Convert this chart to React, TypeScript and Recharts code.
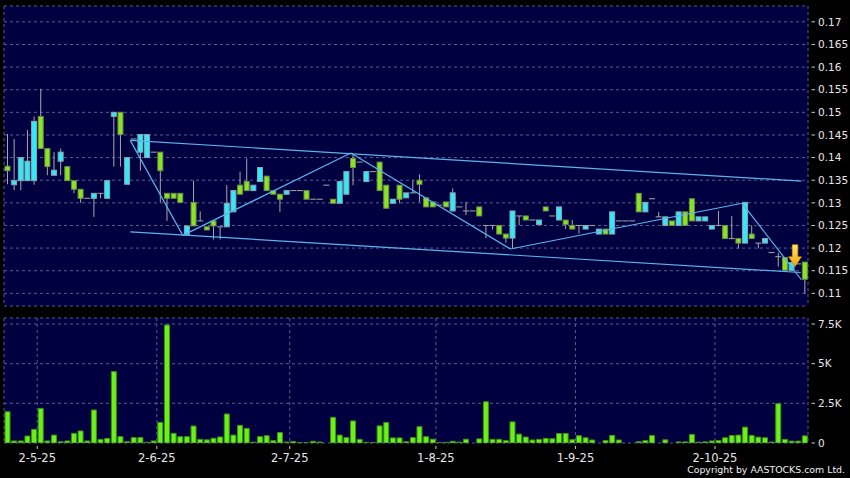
import {
  ComposedChart,
  Bar,
  XAxis,
  YAxis,
  CartesianGrid,
  ReferenceLine,
  ReferenceDot,
} from "recharts";

// daily prices, oldest first (121 sessions)
const OPEN = [
  0.1381, 0.134, 0.1349, 0.1349, 0.1349, 0.1491, 0.142, 0.1361, 0.1392, 0.138,
  0.1349, 0.133, 0.131, 0.131, 0.1321, 0.131, 0.1491, 0.15, 0.1341, 0.1441,
  0.1412, 0.14, 0.1412, 0.1412, 0.1321, 0.1321, 0.1321, 0.1229, 0.1301, 0.126,
  0.1247, 0.126, 0.1247, 0.1247, 0.128, 0.1339, 0.1347, 0.1327, 0.1347, 0.1359,
  0.1327, 0.1319, 0.1319, 0.1327, 0.1327, 0.1327, 0.1308, 0.1308, 0.1339, 0.1308,
  0.1299, 0.1319, 0.1398, 0.139, 0.1347, 0.1369, 0.139, 0.1339, 0.1299, 0.1339,
  0.1311, 0.1322, 0.135, 0.1311, 0.1302, 0.1295, 0.1302, 0.1282, 0.1291, 0.1282,
  0.1282, 0.1291, 0.125, 0.125, 0.125, 0.1231, 0.1222, 0.1271, 0.1271, 0.1262,
  0.1252, 0.1291, 0.1271, 0.1262, 0.1262, 0.125, 0.125, 0.1242, 0.125, 0.1231,
  0.1242, 0.1231, 0.126, 0.126, 0.126, 0.1321, 0.128, 0.1309, 0.1269, 0.125,
  0.126, 0.125, 0.128, 0.1309, 0.126, 0.126, 0.1242, 0.125, 0.125, 0.1221,
  0.1221, 0.1211, 0.1231, 0.1211, 0.1211, 0.119, 0.1181, 0.1179, 0.1151, 0.1165,
  0.1169,
];
const HIGH = [
  0.1452, 0.1441, 0.14, 0.1461, 0.1491, 0.1552, 0.142, 0.1412, 0.142, 0.138,
  0.1349, 0.133, 0.131, 0.1321, 0.1321, 0.1349, 0.15, 0.15, 0.14, 0.1441,
  0.1451, 0.1451, 0.1412, 0.1412, 0.1321, 0.1321, 0.1321, 0.1249, 0.1349, 0.1281,
  0.1247, 0.126, 0.1247, 0.1339, 0.1327, 0.1369, 0.1398, 0.1339, 0.1378, 0.1359,
  0.1327, 0.1319, 0.1327, 0.1327, 0.1327, 0.1327, 0.1308, 0.1308, 0.1339, 0.1308,
  0.1347, 0.1369, 0.1409, 0.139, 0.1369, 0.1369, 0.139, 0.1339, 0.1308, 0.1339,
  0.1322, 0.135, 0.1363, 0.1311, 0.1302, 0.1295, 0.1302, 0.1332, 0.1291, 0.1302,
  0.1282, 0.1291, 0.125, 0.125, 0.125, 0.1231, 0.1282, 0.1271, 0.1271, 0.1262,
  0.1262, 0.1291, 0.1271, 0.1291, 0.1262, 0.1262, 0.125, 0.125, 0.125, 0.1242,
  0.1242, 0.128, 0.126, 0.126, 0.126, 0.1321, 0.1301, 0.1309, 0.128, 0.1269,
  0.126, 0.128, 0.128, 0.1309, 0.1269, 0.1269, 0.125, 0.1282, 0.125, 0.1271,
  0.1221, 0.1301, 0.125, 0.1211, 0.1221, 0.119, 0.119, 0.1179, 0.1168, 0.1165,
  0.1169,
];
const LOW = [
  0.1341, 0.1328, 0.1328, 0.1349, 0.134, 0.142, 0.1361, 0.1361, 0.1361, 0.1349,
  0.1321, 0.13, 0.131, 0.1269, 0.131, 0.131, 0.138, 0.138, 0.1341, 0.1441,
  0.1371, 0.14, 0.1412, 0.1301, 0.126, 0.131, 0.1301, 0.1229, 0.1249, 0.126,
  0.124, 0.1219, 0.1219, 0.1247, 0.128, 0.1319, 0.1327, 0.1327, 0.1347, 0.1327,
  0.1319, 0.128, 0.1319, 0.1327, 0.1327, 0.1308, 0.1308, 0.1308, 0.1339, 0.1299,
  0.1299, 0.1319, 0.1339, 0.139, 0.1347, 0.1369, 0.1327, 0.1288, 0.1299, 0.1299,
  0.1311, 0.1322, 0.1302, 0.1291, 0.1291, 0.1295, 0.1291, 0.1282, 0.1291, 0.1273,
  0.1282, 0.1271, 0.1222, 0.1241, 0.1231, 0.1212, 0.12, 0.125, 0.1262, 0.1262,
  0.1252, 0.1282, 0.1271, 0.1262, 0.1242, 0.1242, 0.1232, 0.1242, 0.125, 0.1231,
  0.1231, 0.1231, 0.126, 0.126, 0.126, 0.128, 0.128, 0.1309, 0.1269, 0.125,
  0.125, 0.125, 0.125, 0.126, 0.126, 0.126, 0.1242, 0.125, 0.1221, 0.1221,
  0.1199, 0.1211, 0.1221, 0.1199, 0.1211, 0.119, 0.1159, 0.1151, 0.1151, 0.1165,
  0.1099,
];
const CLOSE = [
  0.1371, 0.1349, 0.14, 0.1392, 0.148, 0.142, 0.138, 0.1372, 0.1412, 0.1349,
  0.133, 0.131, 0.131, 0.1321, 0.1321, 0.1349, 0.15, 0.1451, 0.14, 0.1441,
  0.1451, 0.1451, 0.1412, 0.1371, 0.131, 0.131, 0.1301, 0.1249, 0.1249, 0.126,
  0.124, 0.1249, 0.1247, 0.1299, 0.1327, 0.1319, 0.1327, 0.1339, 0.1378, 0.1327,
  0.1319, 0.1308, 0.1327, 0.1327, 0.1327, 0.1308, 0.1308, 0.1308, 0.1339, 0.1299,
  0.1347, 0.1369, 0.1378, 0.139, 0.1369, 0.1369, 0.1327, 0.1288, 0.1308, 0.1308,
  0.1322, 0.1322, 0.1341, 0.1291, 0.1291, 0.1295, 0.1291, 0.1322, 0.1291, 0.1282,
  0.1282, 0.1271, 0.125, 0.125, 0.1231, 0.1222, 0.1282, 0.1271, 0.1262, 0.1262,
  0.1262, 0.1282, 0.1271, 0.1291, 0.1252, 0.1242, 0.125, 0.125, 0.125, 0.1242,
  0.1231, 0.128, 0.126, 0.126, 0.126, 0.128, 0.1301, 0.1309, 0.1269, 0.1269,
  0.125, 0.128, 0.125, 0.126, 0.1269, 0.1269, 0.125, 0.125, 0.1221, 0.1221,
  0.1211, 0.1301, 0.1221, 0.1211, 0.1221, 0.119, 0.1181, 0.1151, 0.1168, 0.1165,
  0.1131,
];
const VOLUME = [
  1970, 130, 130, 440, 860, 2180, 130, 500, 80, 130,
  610, 760, 130, 2080, 230, 290, 4500, 400, 80, 340,
  340, 40, 130, 1300, 7440, 610, 400, 400, 1070, 230,
  200, 300, 380, 1830, 500, 1110, 920, 50, 400, 460,
  150, 660, 60, 100, 30, 10, 110, 60, 0, 1620,
  500, 340, 1390, 230, 40, 20, 1080, 1290, 320, 320,
  80, 340, 1030, 400, 240, 20, 40, 110, 50, 240,
  0, 260, 2600, 230, 230, 150, 1330, 560, 380, 190,
  230, 290, 270, 600, 600, 210, 460, 330, 190, 0,
  160, 480, 190, 0, 0, 80, 150, 470, 0, 200,
  0, 70, 70, 540, 50, 70, 130, 160, 330, 470,
  500, 1000, 480, 370, 330, 60, 2480, 230, 120, 120,
  450,
];

const DATE_POS = [4.5, 22.5, 42.5, 64.5, 85.5, 106.5];
const DATE_LABELS = ["2-5-25", "2-6-25", "2-7-25", "1-8-25", "1-9-25", "2-10-25"];
const PRICE_TICKS = [0.11, 0.115, 0.12, 0.125, 0.13, 0.135, 0.14, 0.145, 0.15, 0.155, 0.16, 0.165, 0.17];
const VOLUME_TICKS = [0, 2500, 5000, 7500];

// trend lines drawn on the chart: [session index, price]
const UPPER_CHANNEL = [[18.5, 0.1438], [119.5, 0.1348]];
const LOWER_CHANNEL = [[18.5, 0.1236], [119.4, 0.1146]];
const ZIGZAG = [
  [18.5, 0.1438], [26.4, 0.1228], [51.7, 0.141], [75.7, 0.1198], [110.6, 0.1299], [119.5, 0.113],
];
const ARROW_AT = [118.55, 0.1159];

const BG = "#000040";
const GRID = "#5c5c8e";
const WICK = "#a8a8a8";
const UP_FILL = "#33e8f8";
const UP_EDGE = "#8aa6ae";
const DOWN_FILL = "#8ae424";
const DOWN_EDGE = "#6c8c48";
const LINE = "#5ab4ec";
const FONT = "DejaVu Sans, sans-serif";

const rows = OPEN.map((o, i) => ({
  i,
  o,
  h: HIGH[i],
  l: LOW[i],
  c: CLOSE[i],
  v: VOLUME[i],
}));

function Candle(props: any) {
  const { x, y, width, height, payload } = props;
  if (x == null || y == null) return null;
  const { o, h, l, c } = payload;
  const top = Math.min(y, y + height);
  const bottom = Math.max(y, y + height);
  const span = h - l;
  const toY = (p: number) => (span > 0 ? top + ((h - p) / span) * (bottom - top) : top);
  const cx = x + width / 2;
  const bTop = toY(Math.max(o, c));
  const bBot = toY(Math.min(o, c));
  const up = c > o;
  return (
    <g>
      {bottom - top > 0.5 && (
        <line x1={cx} x2={cx} y1={top} y2={bottom} stroke={WICK} strokeWidth={1} />
      )}
      {bBot - bTop < 1 ? (
        <line x1={x - 0.5} x2={x + width + 0.5} y1={bTop} y2={bTop} stroke={WICK} strokeWidth={1} />
      ) : (
        <rect
          x={x}
          y={bTop}
          width={width}
          height={bBot - bTop}
          fill={up ? UP_FILL : DOWN_FILL}
          stroke={up ? UP_EDGE : DOWN_EDGE}
          strokeWidth={1}
        />
      )}
    </g>
  );
}

function RightTick(props: any) {
  const { x, y, payload, fmt } = props;
  return (
    <g>
      <line x1={x + 3.5} x2={x + 7} y1={y} y2={y} stroke="#c8c8c8" />
      <text x={x + 10} y={y} dy="0.36em" fill="#e6e6e6" fontSize={10.5} fontFamily={FONT}>
        {fmt(payload.value)}
      </text>
    </g>
  );
}

function DateTick(props: any) {
  const { x, y, payload } = props;
  const idx = DATE_POS.indexOf(payload.value);
  return (
    <g>
      <line x1={x} x2={x} y1={y + 3} y2={y + 6} stroke="#c8c8c8" />
      <text x={x} y={y + 19} textAnchor="middle" fill="#e6e6e6" fontSize={11.5} fontFamily={FONT}>
        {DATE_LABELS[idx] ?? ""}
      </text>
    </g>
  );
}

function Arrow(props: any) {
  const { cx, cy } = props;
  if (cx == null || cy == null) return null;
  const pts = [
    [cx - 2.8, cy - 22],
    [cx + 2.8, cy - 22],
    [cx + 2.8, cy - 10],
    [cx + 6.5, cy - 10],
    [cx, cy],
    [cx - 6.5, cy - 10],
    [cx - 2.8, cy - 10],
  ]
    .map((p) => p.join(","))
    .join(" ");
  return (
    <g>
      <defs>
        <linearGradient id="arrowFill" x1="0" y1="0" x2="0" y2="1">
          <stop offset="0%" stopColor="#ffe866" />
          <stop offset="100%" stopColor="#f2a20c" />
        </linearGradient>
      </defs>
      <polygon points={pts} fill="url(#arrowFill)" stroke="#d08a00" strokeWidth={0.6} />
    </g>
  );
}

const fmtPrice = (v: number) => String(+v.toFixed(3));
const fmtVolume = (v: number) => (v === 0 ? "0" : `${+(v / 1000).toFixed(1)}K`);

const seg = (a: number[], b: number[]) => [
  { x: a[0], y: a[1] },
  { x: b[0], y: b[1] },
];

export default function App() {
  const zigzagSegs = ZIGZAG.slice(1).map((p, k) => seg(ZIGZAG[k], p));
  return (
    <div
      style={{
        position: "absolute",
        left: 0,
        top: 0,
        width: 850,
        height: 478,
        background: "#000",
        overflow: "hidden",
      }}
    >
      <div style={{ position: "absolute", left: 0, top: 0 }}>
        <ComposedChart
          width={850}
          height={312}
          data={rows}
          margin={{ top: 6, right: 0, left: 4, bottom: 6 }}
        >
          <CartesianGrid stroke={GRID} strokeDasharray="3 3" fill={BG} fillOpacity={1} />
          <XAxis
            dataKey="i"
            type="number"
            domain={[-0.5, 120.5]}
            ticks={DATE_POS}
            allowDataOverflow
            height={0}
            tick={false}
            tickLine={false}
            axisLine={false}
          />
          <YAxis
            orientation="right"
            width={42}
            domain={[0.1072, 0.1735]}
            ticks={PRICE_TICKS}
            interval={0}
            allowDataOverflow
            axisLine={false}
            tickLine={false}
            tickSize={0}
            tickMargin={0}
            tick={<RightTick fmt={fmtPrice} />}
          />
          <Bar
            dataKey={(d: any) => [d.l, d.h]}
            barSize={5}
            shape={<Candle />}
            isAnimationActive={false}
          />
          <ReferenceLine segment={seg(UPPER_CHANNEL[0], UPPER_CHANNEL[1])} stroke={LINE} strokeWidth={1.2} />
          <ReferenceLine segment={seg(LOWER_CHANNEL[0], LOWER_CHANNEL[1])} stroke={LINE} strokeWidth={1.2} />
          {zigzagSegs.map((s, k) => (
            <ReferenceLine key={k} segment={s} stroke={LINE} strokeWidth={1.2} />
          ))}
          <ReferenceDot x={ARROW_AT[0]} y={ARROW_AT[1]} shape={<Arrow />} />
        </ComposedChart>
      </div>
      <div style={{ position: "absolute", left: 0, top: 312 }}>
        <ComposedChart
          width={850}
          height={166}
          data={rows}
          margin={{ top: 6, right: 0, left: 4, bottom: 0 }}
        >
          <CartesianGrid stroke={GRID} strokeDasharray="3 3" fill={BG} fillOpacity={1} />
          <XAxis
            dataKey="i"
            type="number"
            domain={[-0.5, 120.5]}
            ticks={DATE_POS}
            allowDataOverflow
            height={35}
            axisLine={false}
            tickLine={false}
            tickSize={0}
            tickMargin={0}
            tick={<DateTick />}
            interval={0}
          />
          <YAxis
            orientation="right"
            width={42}
            domain={[0, 7880]}
            ticks={VOLUME_TICKS}
            interval={0}
            allowDataOverflow
            axisLine={false}
            tickLine={false}
            tickSize={0}
            tickMargin={0}
            tick={<RightTick fmt={fmtVolume} />}
          />
          <Bar dataKey="v" barSize={5} fill="#6cf01a" stroke="#3a9410" strokeWidth={1} isAnimationActive={false} />
        </ComposedChart>
      </div>
      <div
        style={{
          position: "absolute",
          right: 5,
          top: 464.5,
          fontFamily: FONT,
          fontSize: 9.4,
          lineHeight: 1,
          color: "#f0f0f0",
          whiteSpace: "nowrap",
        }}
      >
        Copyright by AASTOCKS.com Ltd.
      </div>
    </div>
  );
}
